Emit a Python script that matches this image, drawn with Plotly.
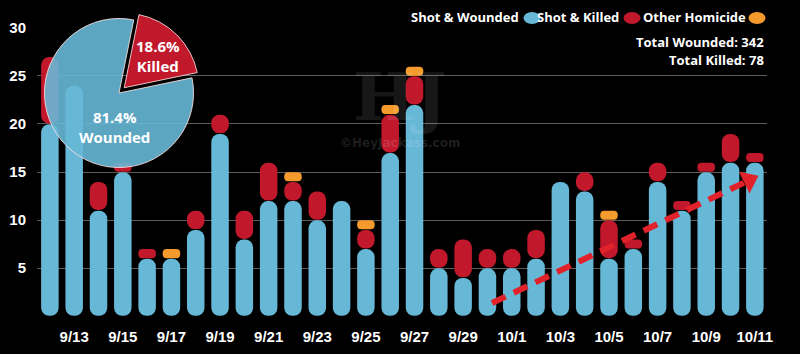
import plotly.graph_objects as go

# ---------------- data ----------------
dates = ["9/12", "9/13", "9/14", "9/15", "9/16", "9/17", "9/18", "9/19", "9/20", "9/21",
         "9/22", "9/23", "9/24", "9/25", "9/26", "9/27", "9/28", "9/29", "9/30", "10/1",
         "10/2", "10/3", "10/4", "10/5", "10/6", "10/7", "10/8", "10/9", "10/10", "10/11"]
wounded = [20, 24, 11, 15, 6, 6, 9, 19, 8, 12, 12, 10, 12, 7, 17, 22, 5, 4, 5, 5,
           6, 14, 13, 6, 7, 14, 11, 15, 16, 16]
killed = [7, 0, 3, 1, 1, 0, 2, 2, 3, 4, 2, 3, 0, 2, 4, 3, 2, 4, 2, 2,
          3, 0, 2, 4, 1, 2, 1, 1, 3, 1]
other = [0, 0, 0, 0, 0, 1, 0, 0, 0, 0, 1, 0, 0, 1, 1, 1, 0, 0, 0, 0,
         0, 0, 0, 1, 0, 0, 0, 0, 0, 0]
total_wounded = 342
total_killed = 78
y_ticks = [5, 10, 15, 20, 25, 30]
legend_names = ["Shot & Wounded", "Shot & Killed", "Other Homicide"]

# trend arrow (annotation in data units)
trend_x = [18.19, 28.57]
trend_y = [1.35, 13.9]
trend_head = (28.76, 14.13)

# ---------------- style ----------------
BLUE = "#67b8d7"
RED = "#c1182c"
ORANGE = "#f59b2d"
ARROW = "#e1222b"
BAR_W = 0.72
GAP = 0.06

x = list(range(len(dates)))


def segment(lo, hi, short):
    bases, lens = [], []
    for a, b in zip(lo, hi):
        n = b - a
        if n <= 0 or (short and n > 1) or (not short and n <= 1):
            bases.append(None); lens.append(None)
        else:
            bases.append(a + GAP / 2); lens.append(n - GAP)
    return bases, lens


lvl0 = [0] * len(x)
lvl1 = [w for w in wounded]
lvl2 = [w + k for w, k in zip(wounded, killed)]
lvl3 = [w + k + o for w, k, o in zip(wounded, killed, other)]

fig = go.Figure()
for lo, hi, col in [(lvl0, lvl1, BLUE), (lvl1, lvl2, RED), (lvl2, lvl3, ORANGE)]:
    for short, rad in [(False, "50%"), (True, 6)]:
        b, L = segment(lo, hi, short)
        fig.add_trace(go.Bar(x=x, y=L, base=b, width=BAR_W,
                             marker=dict(color=col, cornerradius=rad, line=dict(width=0)),
                             showlegend=False, hoverinfo="skip"))

# dashed trend arrow
fig.add_trace(go.Scatter(x=trend_x, y=trend_y, mode="lines",
                         line=dict(color=ARROW, width=6, dash="15px,9px"),
                         showlegend=False, hoverinfo="skip"))
fig.add_trace(go.Scatter(x=[trend_head[0]], y=[trend_head[1]], mode="markers",
                         marker=dict(symbol="triangle-up", size=21, angle=64.5, color=ARROW,
                                     line=dict(width=0)),
                         showlegend=False, hoverinfo="skip"))

# pie inset
W, H = 800, 354
pcx, pcy, pside = 119, 93, 164
total = total_killed + total_wounded
fig.add_trace(go.Pie(values=[total_killed, total_wounded], labels=["Killed", "Wounded"],
                     sort=False, direction="clockwise", rotation=11.4,
                     pull=[0.1, 0], textinfo="none", hoverinfo="skip", showlegend=False,
                     marker=dict(colors=[RED, "rgba(103,184,215,0.9)"],
                                 line=dict(color="rgba(255,225,225,0.85)", width=1)),
                     domain=dict(x=[(pcx - pside / 2) / W, (pcx + pside / 2) / W],
                                 y=[(H - pcy - pside / 2) / H, (H - pcy + pside / 2) / H])))

pfont = dict(family="Open Sans", size=15, color="white", weight="bold")
ann = [
    dict(x=158 / W, y=1 - 56 / H, text=f"{100 * total_killed / total:.1f}%<br>Killed"),
    dict(x=115 / W, y=1 - 127 / H, text=f"{100 * total_wounded / total:.1f}%<br>Wounded"),
]
annotations = []
for a in ann:
    annotations.append(dict(xref="paper", yref="paper", x=a["x"], y=a["y"], text=a["text"],
                            showarrow=False, font=pfont, xanchor="center", yanchor="middle"))

# custom legend: text followed by an oval swatch
lfont = dict(family="Open Sans", size=13, color="white", weight="bold")
shapes = []
leg_text_right = [521, 621, 748]
leg_dot_cx = [532, 632, 757]
for name, tx, cx, col in zip(legend_names, leg_text_right, leg_dot_cx, [BLUE, RED, ORANGE]):
    annotations.append(dict(xref="paper", yref="paper", x=tx / W, y=1 - 17 / H, text=name,
                            showarrow=False, font=lfont, xanchor="right", yanchor="middle"))
    shapes.append(dict(type="circle", xref="paper", yref="paper",
                       x0=(cx - 8.5) / W, x1=(cx + 8.5) / W,
                       y0=1 - 24 / H, y1=1 - 12 / H, fillcolor=col, line=dict(width=0),
                       layer="below"))

annotations += [
    dict(xref="paper", yref="paper", x=766 / W, y=1 - 42 / H,
         text=f"Total Wounded: {total_wounded}", showarrow=False,
         font=dict(family="Open Sans", size=13, color="white", weight="bold"),
         xanchor="right", yanchor="middle"),
    dict(xref="paper", yref="paper", x=766 / W, y=1 - 60 / H,
         text=f"Total Killed: {total_killed}", showarrow=False,
         font=dict(family="Open Sans", size=13, color="white", weight="bold"),
         xanchor="right", yanchor="middle"),
    # watermark
    dict(xref="paper", yref="paper", x=400 / W, y=1 - 97 / H, text="HJ", showarrow=False,
         font=dict(family="DejaVu Serif", size=66, color="rgba(255,255,255,0.09)", weight="bold"),
         xanchor="center", yanchor="middle"),
    dict(xref="paper", yref="paper", x=400 / W, y=1 - 143 / H, text="©HeyJackass.com",
         showarrow=False,
         font=dict(family="DejaVu Sans", size=12, color="rgba(255,255,255,0.12)", weight="bold"),
         xanchor="center", yanchor="middle"),
]

tickfont = dict(family="Liberation Sans", size=15, color="white", weight="bold")
fig.update_layout(
    width=W, height=H,
    margin=dict(l=0, r=0, t=0, b=0),
    paper_bgcolor="#000000", plot_bgcolor="#000000",
    barmode="overlay",
    annotations=annotations,
    shapes=shapes,
    xaxis=dict(domain=[37 / W, 767 / W], range=[-0.53, 29.5], showgrid=False, zeroline=False,
               showline=False, tickmode="array", tickvals=x[1::2],
               ticktext=[dates[i] for i in x[1::2]], tickfont=tickfont, ticks="",
               ticklabelstandoff=9, automargin=False, fixedrange=True),
    yaxis=dict(domain=[37 / H, 327 / H], range=[-0.1, 30.1], showgrid=True,
               gridcolor="#5c5c5c", gridwidth=1, zeroline=False, showline=False,
               tickmode="array", tickvals=y_ticks, tickfont=tickfont, ticks="",
               ticklabelstandoff=10, automargin=False, fixedrange=True),
)

fig.write_html("out.html")
